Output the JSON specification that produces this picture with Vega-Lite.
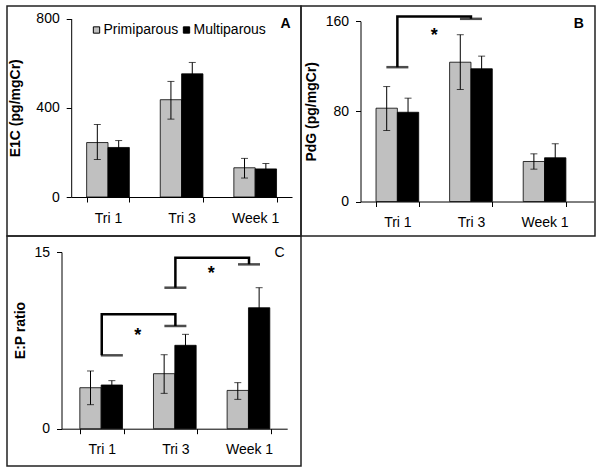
{
  "$schema": "https://vega.github.io/schema/vega-lite/v6.json",
  "background": "white",
  "padding": {"left": 6, "top": 5, "right": 0, "bottom": 0},
  "bounds": "flush",
  "spacing": 0,
  "columns": 2,
  "datasets": {
    "bars": [
      {"panel": "A", "period": "Tri 1", "group": "Primiparous", "mean": 244, "lo": 168, "hi": 325},
      {"panel": "A", "period": "Tri 1", "group": "Multiparous", "mean": 222, "lo": 191, "hi": 253},
      {"panel": "A", "period": "Tri 3", "group": "Primiparous", "mean": 436, "lo": 349, "hi": 518},
      {"panel": "A", "period": "Tri 3", "group": "Multiparous", "mean": 552, "lo": 501, "hi": 603},
      {"panel": "A", "period": "Week 1", "group": "Primiparous", "mean": 131, "lo": 85, "hi": 173},
      {"panel": "A", "period": "Week 1", "group": "Multiparous", "mean": 126, "lo": 102, "hi": 150},
      {"panel": "B", "period": "Tri 1", "group": "Primiparous", "mean": 82.8, "lo": 63, "hi": 102},
      {"panel": "B", "period": "Tri 1", "group": "Multiparous", "mean": 79.2, "lo": 66.7, "hi": 91.7},
      {"panel": "B", "period": "Tri 3", "group": "Primiparous", "mean": 123.6, "lo": 99.4, "hi": 148},
      {"panel": "B", "period": "Tri 3", "group": "Multiparous", "mean": 117.8, "lo": 106.6, "hi": 129},
      {"panel": "B", "period": "Week 1", "group": "Primiparous", "mean": 35.5, "lo": 28.7, "hi": 42.3},
      {"panel": "B", "period": "Week 1", "group": "Multiparous", "mean": 38.8, "lo": 26.4, "hi": 51.2},
      {"panel": "C", "period": "Tri 1", "group": "Primiparous", "mean": 3.48, "lo": 2.04, "hi": 4.9},
      {"panel": "C", "period": "Tri 1", "group": "Multiparous", "mean": 3.71, "lo": 3.34, "hi": 4.08},
      {"panel": "C", "period": "Tri 3", "group": "Primiparous", "mean": 4.67, "lo": 3.0, "hi": 6.28},
      {"panel": "C", "period": "Tri 3", "group": "Multiparous", "mean": 7.08, "lo": 6.15, "hi": 8.01},
      {"panel": "C", "period": "Week 1", "group": "Primiparous", "mean": 3.25, "lo": 2.49, "hi": 3.91},
      {"panel": "C", "period": "Week 1", "group": "Multiparous", "mean": 10.27, "lo": 8.57, "hi": 11.97}
    ],
    "brackets": [
      {"panel": "B", "id": "B1", "o": 1, "period": "Tri 1", "value": 119.2},
      {"panel": "B", "id": "B1", "o": 2, "period": "Tri 1", "value": 164.2},
      {"panel": "B", "id": "B1", "o": 3, "period": "Tri 3", "value": 164.2},
      {"panel": "B", "id": "B1", "o": 4, "period": "Tri 3", "value": 162.1},
      {"panel": "C", "id": "C1", "o": 1, "period": "Tri 1", "value": 6.23},
      {"panel": "C", "id": "C1", "o": 2, "period": "Tri 1", "value": 9.71},
      {"panel": "C", "id": "C1", "o": 3, "period": "Tri 3", "value": 9.71},
      {"panel": "C", "id": "C1", "o": 4, "period": "Tri 3", "value": 8.72},
      {"panel": "C", "id": "C2", "o": 1, "period": "Tri 3", "value": 11.97},
      {"panel": "C", "id": "C2", "o": 2, "period": "Tri 3", "value": 14.51},
      {"panel": "C", "id": "C2", "o": 3, "period": "Week 1", "value": 14.51},
      {"panel": "C", "id": "C2", "o": 4, "period": "Week 1", "value": 13.95}
    ],
    "caps": [
      {"panel": "B", "period": "Tri 1", "value": 119.2, "group": null},
      {"panel": "B", "period": "Tri 3", "value": 162.1, "group": null},
      {"panel": "C", "period": "Tri 1", "value": 6.23, "group": "Multiparous"},
      {"panel": "C", "period": "Tri 3", "value": 8.72, "group": null},
      {"panel": "C", "period": "Tri 3", "value": 11.97, "group": null},
      {"panel": "C", "period": "Week 1", "value": 13.95, "group": null}
    ],
    "stars": [
      {"panel": "B", "period": "Tri 3", "value": 149.4, "label": "*"},
      {"panel": "C", "period": "Tri 3", "value": 8.15, "label": "*"},
      {"panel": "C", "period": "Week 1", "value": 13.39, "label": "*"}
    ]
  },
  "resolve": {"scale": {"color": "independent"}, "legend": {"color": "independent"}},
  "concat": [
    {
      "width": 294,
      "height": 230,
      "title": {"text": "A", "anchor": "end", "frame": "group", "offset": -35.5, "dx": -10.5, "fontSize": 14, "fontWeight": "bold", "baseline": "alphabetic", "color": "black", "font": "Liberation Sans"},
      "layer": [
        {
          "data": {"name": "bars"},
          "transform": [{"filter": "datum.panel === 'A'"}],
          "mark": {"type": "bar", "stroke": "black", "strokeWidth": 0.8},
          "encoding": {
            "x": {"field": "period", "type": "nominal", "sort": ["Tri 1", "Tri 3", "Week 1"], "scale": {"range": [64.2, 285], "paddingInner": 0.42, "paddingOuter": 0.21}, "axis": {"title": null, "offset": -39}},
            "xOffset": {"field": "group", "type": "nominal", "sort": ["Primiparous", "Multiparous"], "scale": {"paddingInner": 0, "paddingOuter": 0}},
            "y": {"field": "mean", "type": "quantitative", "scale": {"domain": [0, 800], "range": [191, 12.5], "nice": false, "zero": false}, "axis": {"values": [0, 400, 800], "title": "E1C (pg/mgCr)", "offset": -64.2, "titleX": -55.4}},
            "color": {"field": "group", "type": "nominal", "sort": ["Primiparous", "Multiparous"], "scale": {"domain": ["Primiparous", "Multiparous"], "range": ["#c0c0c0", "#000000"]}, "legend": {"orient": "none", "legendX": 82.5, "legendY": 17, "direction": "horizontal", "title": null, "symbolType": "square", "symbolSize": 40, "symbolStrokeColor": "black", "symbolStrokeWidth": 1, "labelFontSize": 14, "labelOffset": 0, "columnPadding": 1, "padding": 0, "labelColor": "black", "labelFont": "Liberation Sans"}}
          }
        },
        {
          "data": {"name": "bars"},
          "transform": [{"filter": "datum.panel === 'A'"}],
          "mark": {"type": "rule", "color": "black", "strokeWidth": 1},
          "encoding": {
            "x": {"field": "period", "type": "nominal", "sort": ["Tri 1", "Tri 3", "Week 1"]},
            "xOffset": {"field": "group", "type": "nominal", "sort": ["Primiparous", "Multiparous"]},
            "y": {"field": "lo", "type": "quantitative"},
            "y2": {"field": "hi"}
          }
        },
        {
          "data": {"name": "bars"},
          "transform": [{"filter": "datum.panel === 'A'"}],
          "mark": {"type": "tick", "color": "black", "size": 7, "thickness": 1, "orient": "horizontal"},
          "encoding": {
            "x": {"field": "period", "type": "nominal", "sort": ["Tri 1", "Tri 3", "Week 1"]},
            "xOffset": {"field": "group", "type": "nominal", "sort": ["Primiparous", "Multiparous"]},
            "y": {"field": "hi", "type": "quantitative"}
          }
        },
        {
          "data": {"name": "bars"},
          "transform": [{"filter": "datum.panel === 'A'"}],
          "mark": {"type": "tick", "color": "black", "size": 7, "thickness": 1, "orient": "horizontal"},
          "encoding": {
            "x": {"field": "period", "type": "nominal", "sort": ["Tri 1", "Tri 3", "Week 1"]},
            "xOffset": {"field": "group", "type": "nominal", "sort": ["Primiparous", "Multiparous"]},
            "y": {"field": "lo", "type": "quantitative"}
          }
        }
      ]
    },
    {
      "width": 294,
      "height": 230,
      "title": {"text": "B", "anchor": "end", "frame": "group", "offset": -35.5, "dx": -11.2, "fontSize": 14, "fontWeight": "bold", "baseline": "alphabetic", "color": "black", "font": "Liberation Sans"},
      "layer": [
        {
          "data": {"name": "bars"},
          "transform": [{"filter": "datum.panel === 'B'"}],
          "mark": {"type": "bar", "stroke": "black", "strokeWidth": 0.8},
          "encoding": {
            "x": {"field": "period", "type": "nominal", "sort": ["Tri 1", "Tri 3", "Week 1"], "scale": {"range": [59.5, 292.5], "paddingInner": 0.42, "paddingOuter": 0.293, "align": 0.36}, "axis": {"title": null, "offset": -34.5}},
            "xOffset": {"field": "group", "type": "nominal", "sort": ["Primiparous", "Multiparous"], "scale": {"paddingInner": 0, "paddingOuter": 0}},
            "y": {"field": "mean", "type": "quantitative", "scale": {"domain": [0, 160], "range": [195.5, 15.2], "nice": false, "zero": false}, "axis": {"values": [0, 80, 160], "title": "PdG (pg/mgCr)", "offset": -59.5, "titleX": -49}},
            "color": {"field": "group", "type": "nominal", "scale": {"domain": ["Primiparous", "Multiparous"], "range": ["#c0c0c0", "#000000"]}, "legend": null}
          }
        },
        {
          "data": {"name": "bars"},
          "transform": [{"filter": "datum.panel === 'B'"}],
          "mark": {"type": "rule", "color": "black", "strokeWidth": 1},
          "encoding": {
            "x": {"field": "period", "type": "nominal", "sort": ["Tri 1", "Tri 3", "Week 1"]},
            "xOffset": {"field": "group", "type": "nominal", "sort": ["Primiparous", "Multiparous"]},
            "y": {"field": "lo", "type": "quantitative"},
            "y2": {"field": "hi"}
          }
        },
        {
          "data": {"name": "bars"},
          "transform": [{"filter": "datum.panel === 'B'"}],
          "mark": {"type": "tick", "color": "black", "size": 7, "thickness": 1, "orient": "horizontal"},
          "encoding": {
            "x": {"field": "period", "type": "nominal", "sort": ["Tri 1", "Tri 3", "Week 1"]},
            "xOffset": {"field": "group", "type": "nominal", "sort": ["Primiparous", "Multiparous"]},
            "y": {"field": "hi", "type": "quantitative"}
          }
        },
        {
          "data": {"name": "bars"},
          "transform": [{"filter": "datum.panel === 'B'"}],
          "mark": {"type": "tick", "color": "black", "size": 7, "thickness": 1, "orient": "horizontal"},
          "encoding": {
            "x": {"field": "period", "type": "nominal", "sort": ["Tri 1", "Tri 3", "Week 1"]},
            "xOffset": {"field": "group", "type": "nominal", "sort": ["Primiparous", "Multiparous"]},
            "y": {"field": "lo", "type": "quantitative"}
          }
        },
        {
          "data": {"name": "brackets"},
          "transform": [{"filter": "datum.panel === 'B'"}],
          "mark": {"type": "line", "color": "black", "strokeWidth": 2.5},
          "encoding": {
            "x": {"field": "period", "type": "nominal", "sort": ["Tri 1", "Tri 3", "Week 1"]},
            "y": {"field": "value", "type": "quantitative"},
            "detail": {"field": "id"},
            "order": {"field": "o", "type": "quantitative"}
          }
        },
        {
          "data": {"name": "caps"},
          "transform": [{"filter": "datum.panel === 'B'"}],
          "mark": {"type": "tick", "color": "black", "size": 22, "thickness": 2.5, "orient": "horizontal"},
          "encoding": {
            "x": {"field": "period", "type": "nominal", "sort": ["Tri 1", "Tri 3", "Week 1"]},
            "y": {"field": "value", "type": "quantitative"}
          }
        },
        {
          "data": {"name": "stars"},
          "transform": [{"filter": "datum.panel === 'B'"}],
          "mark": {"type": "text", "fontSize": 18, "fontWeight": "bold", "baseline": "middle", "dy": 3, "color": "black", "font": "Liberation Sans"},
          "encoding": {
            "x": {"field": "period", "type": "nominal", "sort": ["Tri 1", "Tri 3", "Week 1"], "bandPosition": -0.36},
            "y": {"field": "value", "type": "quantitative"},
            "text": {"field": "label"}
          }
        }
      ]
    },
    {
      "width": 294,
      "height": 230,
      "title": {"text": "C", "anchor": "end", "frame": "group", "offset": -35, "dx": -16.5, "fontSize": 14, "fontWeight": "normal", "baseline": "alphabetic", "color": "black", "font": "Liberation Sans"},
      "layer": [
        {
          "data": {"name": "bars"},
          "transform": [{"filter": "datum.panel === 'C'"}],
          "mark": {"type": "bar", "stroke": "black", "strokeWidth": 0.8},
          "encoding": {
            "x": {"field": "period", "type": "nominal", "sort": ["Tri 1", "Tri 3", "Week 1"], "scale": {"range": [54.5, 280.2], "paddingInner": 0.405, "paddingOuter": 0.235, "align": 0.53}, "axis": {"title": null, "offset": -37.3}},
            "xOffset": {"field": "group", "type": "nominal", "sort": ["Primiparous", "Multiparous"], "scale": {"paddingInner": 0, "paddingOuter": 0}},
            "y": {"field": "mean", "type": "quantitative", "scale": {"domain": [0, 15], "range": [192.7, 16], "nice": false, "zero": false}, "axis": {"values": [0, 15], "title": "E:P ratio", "offset": -54.5, "titleX": -41, "titleY": 94}},
            "color": {"field": "group", "type": "nominal", "scale": {"domain": ["Primiparous", "Multiparous"], "range": ["#c0c0c0", "#000000"]}, "legend": null}
          }
        },
        {
          "data": {"name": "bars"},
          "transform": [{"filter": "datum.panel === 'C'"}],
          "mark": {"type": "rule", "color": "black", "strokeWidth": 1},
          "encoding": {
            "x": {"field": "period", "type": "nominal", "sort": ["Tri 1", "Tri 3", "Week 1"]},
            "xOffset": {"field": "group", "type": "nominal", "sort": ["Primiparous", "Multiparous"]},
            "y": {"field": "lo", "type": "quantitative"},
            "y2": {"field": "hi"}
          }
        },
        {
          "data": {"name": "bars"},
          "transform": [{"filter": "datum.panel === 'C'"}],
          "mark": {"type": "tick", "color": "black", "size": 7, "thickness": 1, "orient": "horizontal"},
          "encoding": {
            "x": {"field": "period", "type": "nominal", "sort": ["Tri 1", "Tri 3", "Week 1"]},
            "xOffset": {"field": "group", "type": "nominal", "sort": ["Primiparous", "Multiparous"]},
            "y": {"field": "hi", "type": "quantitative"}
          }
        },
        {
          "data": {"name": "bars"},
          "transform": [{"filter": "datum.panel === 'C'"}],
          "mark": {"type": "tick", "color": "black", "size": 7, "thickness": 1, "orient": "horizontal"},
          "encoding": {
            "x": {"field": "period", "type": "nominal", "sort": ["Tri 1", "Tri 3", "Week 1"]},
            "xOffset": {"field": "group", "type": "nominal", "sort": ["Primiparous", "Multiparous"]},
            "y": {"field": "lo", "type": "quantitative"}
          }
        },
        {
          "data": {"name": "brackets"},
          "transform": [{"filter": "datum.panel === 'C'"}],
          "mark": {"type": "line", "color": "black", "strokeWidth": 2.5},
          "encoding": {
            "x": {"field": "period", "type": "nominal", "sort": ["Tri 1", "Tri 3", "Week 1"]},
            "y": {"field": "value", "type": "quantitative"},
            "detail": {"field": "id"},
            "order": {"field": "o", "type": "quantitative"}
          }
        },
        {
          "data": {"name": "caps"},
          "transform": [{"filter": "datum.panel === 'C' && datum.group == null"}],
          "mark": {"type": "tick", "color": "black", "size": 22, "thickness": 2.5, "orient": "horizontal"},
          "encoding": {
            "x": {"field": "period", "type": "nominal", "sort": ["Tri 1", "Tri 3", "Week 1"]},
            "y": {"field": "value", "type": "quantitative"}
          }
        },
        {
          "data": {"name": "caps"},
          "transform": [{"filter": "datum.panel === 'C' && datum.group != null"}],
          "mark": {"type": "tick", "color": "black", "size": 22, "thickness": 2.5, "orient": "horizontal"},
          "encoding": {
            "x": {"field": "period", "type": "nominal", "sort": ["Tri 1", "Tri 3", "Week 1"]},
            "xOffset": {"field": "group", "type": "nominal", "sort": ["Primiparous", "Multiparous"]},
            "y": {"field": "value", "type": "quantitative"}
          }
        },
        {
          "data": {"name": "stars"},
          "transform": [{"filter": "datum.panel === 'C'"}],
          "mark": {"type": "text", "fontSize": 18, "fontWeight": "bold", "baseline": "middle", "dy": 3, "color": "black", "font": "Liberation Sans"},
          "encoding": {
            "x": {"field": "period", "type": "nominal", "sort": ["Tri 1", "Tri 3", "Week 1"], "bandPosition": -0.36},
            "y": {"field": "value", "type": "quantitative"},
            "text": {"field": "label"}
          }
        }
      ]
    }
  ],
  "config": {
    "font": "Liberation Sans",
    "view": {"stroke": "#222222", "strokeWidth": 1.5},
    "axis": {
      "grid": false,
      "domainColor": "black",
      "domainWidth": 1,
      "tickColor": "black",
      "tickSize": 5,
      "tickWidth": 1,
      "labelColor": "black",
      "labelFont": "Liberation Sans",
      "labelFontSize": 14,
      "titleFont": "Liberation Sans",
      "titleFontSize": 14,
      "titleFontWeight": "bold",
      "titleColor": "black"
    },
    "axisX": {"labelAngle": 0, "tickBand": "extent", "labelPadding": 9},
    "axisY": {"labelPadding": 7, "titleBaseline": "middle"}
  }
}
